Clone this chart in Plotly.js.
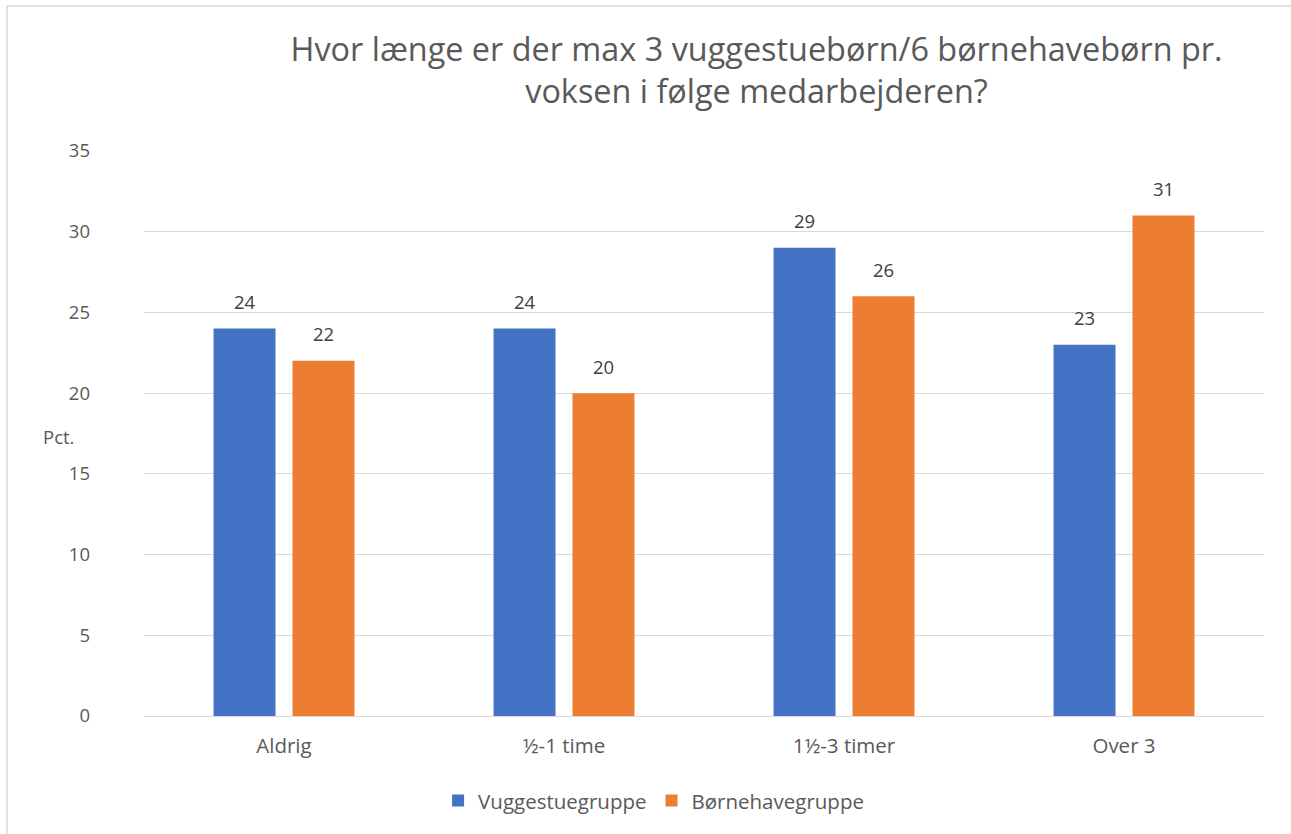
<!DOCTYPE html>
<html>
<head>
<meta charset="utf-8">
<script src="https://cdn.plot.ly/plotly-3.0.1.min.js"></script>
<style>html,body{margin:0;padding:0;background:#fff;}#chart{width:1291px;height:834px;}</style>
</head>
<body>
<div id="chart"></div>
<script>
const categories = ["Aldrig", "½-1 time", "1½-3 timer", "Over 3"];
const vuggestue = [24, 24, 29, 23];
const boernehave = [22, 20, 26, 31];
const seriesNames = ["Vuggestuegruppe", "Børnehavegruppe"];
const yTicks = [0, 5, 10, 15, 20, 25, 30, 35];

const FONT = "'Open Sans', sans-serif";
const labelFont = {family: FONT, size: 18.5, color: "#404040"};

const traces = [
  {type: "bar", name: seriesNames[0], x: categories, y: vuggestue,
   marker: {color: "#4472C4"}, hoverinfo: "x+y"},
  {type: "bar", name: seriesNames[1], x: categories, y: boernehave,
   marker: {color: "#ED7D31"}, hoverinfo: "x+y"}
];

// data labels placed above each bar (offset of grouped bar within its category)
const labelAnns = [];
[[vuggestue, -39.5], [boernehave, 39.5]].forEach(([vals, dx]) => {
  vals.forEach((v, i) => {
    labelAnns.push({xref: "x", yref: "y", x: categories[i], y: v, text: String(v),
      showarrow: false, xshift: dx, yshift: 27, xanchor: "center", yanchor: "middle",
      font: labelFont});
  });
});

const layout = {
  width: 1291, height: 834,
  margin: {l: 144, r: 27, t: 151, b: 118},
  paper_bgcolor: "#fff", plot_bgcolor: "#fff",
  font: {family: FONT, color: "#595959", size: 18.5},
  barmode: "group", bargap: 0.436, bargroupgap: 0.215,
  title: {text: "Hvor længe er der max 3 vuggestuebørn/6 børnehavebørn pr.<br>voksen i følge medarbejderen?",
          font: {family: FONT, size: 32.4, color: "#595959"},
          xref: "container", x: 0.586, xanchor: "center",
          yref: "container", y: 0.927, yanchor: "middle"},
  xaxis: {type: "category", showgrid: false, showline: true, linecolor: "#d9d9d9", linewidth: 1,
          ticks: "", tickfont: {family: FONT, size: 20.5, color: "#595959"}, ticklabelstandoff: 11,
          fixedrange: true},
  yaxis: {range: [0, 35], tickvals: yTicks, showgrid: true, gridcolor: "#d9d9d9", gridwidth: 1,
          zeroline: false, showline: false, ticks: "",
          tickfont: {family: FONT, size: 18.5, color: "#595959"}, ticklabelstandoff: 53,
          fixedrange: true},
  legend: {orientation: "h", x: 0.455, xanchor: "center", y: -0.15, yanchor: "middle",
           font: {family: FONT, size: 20.5, color: "#595959"}, itemwidth: 30, traceorder: "normal"},
  annotations: [
    {text: "Pct.", xref: "paper", yref: "paper", x: -0.061, y: 0.495, xanchor: "right", yanchor: "middle",
     showarrow: false, font: {family: FONT, size: 18.5, color: "#595959"}}
  ].concat(labelAnns),
  shapes: [
    {type: "rect", xref: "paper", yref: "paper", x0: -0.1223, x1: 1.03, y0: -0.23, y1: 1.2566,
     line: {color: "#d9d9d9", width: 1.5}, fillcolor: "rgba(0,0,0,0)", layer: "below"}
  ],
  showlegend: true
};

Plotly.newPlot("chart", traces, layout, {displayModeBar: false, staticPlot: true});
</script>
</body>
</html>
